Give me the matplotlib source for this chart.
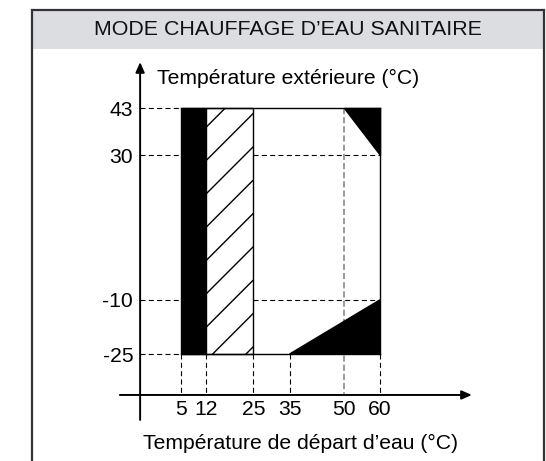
import matplotlib
matplotlib.use('Agg')
import matplotlib.pyplot as plt
from matplotlib.patches import Rectangle, Polygon

plt.rcParams['font.family'] = ['Liberation Sans', 'DejaVu Sans']
plt.rcParams['hatch.linewidth'] = 1.0

# ---------------- data ----------------
title = "MODE CHAUFFAGE D’EAU SANITAIRE"
xlabel = "Température de départ d’eau (°C)"
ylabel = "Température extérieure (°C)"

x_ticks = [5, 12, 25, 35, 50, 60]
y_ticks = [43, 30, -10, -25]

t_out_min, t_out_max = -25, 43
t_water_max = 60
backup_zone = [5, 12]        # black band
limited_zone = [12, 25]      # hatched band
top_corner_x = [50, 60, 60]
top_corner_y = [43, 43, 30]
bottom_corner_x = [35, 60, 60]
bottom_corner_y = [-25, -10, -25]
dashed_right_levels = [30, -10]
gray_line_x = 50

# axis placement (data units)
y_axis_x = -6.3
x_axis_y = -36.3

W, H = 546, 461
fig = plt.figure(figsize=(W / 100, H / 100), dpi=100)
ax = fig.add_axes([0, 0, 1, 1])
ax.set_xlim(-45.03, 105.9)
ax.set_ylim(-54.55, 72.86)
ax.axis('off')

FS = 15.2

# ---------------- frame & header ----------------
fx0, fx1 = 31.5 / W, 544 / W
fy_top = 1 - 10.5 / H
fy_head = 1 - 49 / H
fig.patches.append(Rectangle((fx0, fy_head), fx1 - fx0, fy_top - fy_head,
                             transform=fig.transFigure, facecolor='#dcdde0',
                             edgecolor='none', zorder=0))
fig.patches.append(Rectangle((fx0, -0.1), fx1 - fx0, fy_top + 0.1,
                             transform=fig.transFigure, facecolor='none',
                             edgecolor='#333333', lw=1.6, zorder=5))
fig.text((fx0 + fx1) / 2, 1 - 29.5 / H, title, ha='center', va='center',
         fontsize=15.4, color='#111111')

# ---------------- zones ----------------
ax.add_patch(Rectangle((backup_zone[0], t_out_min), backup_zone[1] - backup_zone[0],
                       t_out_max - t_out_min, facecolor='black', edgecolor='black',
                       lw=1.0, zorder=3))
ax.add_patch(Rectangle((limited_zone[0], t_out_min), limited_zone[1] - limited_zone[0],
                       t_out_max - t_out_min, facecolor='white', edgecolor='black',
                       hatch='/', lw=1.0, zorder=3))
ax.add_patch(Polygon(list(zip(top_corner_x, top_corner_y)), closed=True,
                     facecolor='black', edgecolor='black', lw=1.0, zorder=3))
ax.add_patch(Polygon(list(zip(bottom_corner_x, bottom_corner_y)), closed=True,
                     facecolor='black', edgecolor='black', lw=1.0, zorder=3))

# outline of operating region
ax.plot([backup_zone[0], t_water_max], [t_out_max, t_out_max], color='black', lw=1.0, zorder=3)
ax.plot([t_water_max, t_water_max], [t_out_max, t_out_min], color='black', lw=1.0, zorder=3)
ax.plot([backup_zone[0], t_water_max], [t_out_min, t_out_min], color='black', lw=1.0, zorder=3)

# ---------------- dashed guides ----------------
dash = (0, (4.5, 3))
for yv in y_ticks:
    ax.plot([y_axis_x, backup_zone[0]], [yv, yv], color='black', lw=0.8,
            linestyle=dash, zorder=2)
for yv in dashed_right_levels:
    ax.plot([limited_zone[1], t_water_max], [yv, yv], color='black', lw=0.8,
            linestyle=dash, zorder=2)
for xv in x_ticks:
    if xv == gray_line_x:
        continue
    ax.plot([xv, xv], [t_out_min, x_axis_y], color='black', lw=0.8,
            linestyle=dash, zorder=2)
ax.plot([gray_line_x, gray_line_x], [t_out_max, x_axis_y], color='#808080', lw=1.1,
        linestyle=(0, (4, 2)), zorder=2)

# ---------------- axes with arrows ----------------
ax.annotate('', xy=(85.4, x_axis_y), xytext=(-11.9, x_axis_y),
            arrowprops=dict(arrowstyle='-|>,head_length=0.5,head_width=0.22',
                            lw=1.4, color='black', mutation_scale=12,
                            shrinkA=0, shrinkB=0), zorder=4)
ax.annotate('', xy=(y_axis_x, 55.7), xytext=(y_axis_x, -43.2),
            arrowprops=dict(arrowstyle='-|>,head_length=0.5,head_width=0.22',
                            lw=1.4, color='black', mutation_scale=12,
                            shrinkA=0, shrinkB=0), zorder=4)

# ---------------- labels ----------------
for xv in x_ticks:
    ax.text(xv, -40.3, str(xv), ha='center', va='center', fontsize=FS)
for yv in y_ticks:
    ax.text(-8.2, yv, str(yv), ha='right', va='center_baseline', fontsize=FS)

ax.text(-1.6, 51.3, ylabel, ha='left', va='center', fontsize=FS)
ax.text(37.9, -49.8, xlabel, ha='center', va='center', fontsize=FS)

fig.savefig('out.png', dpi=100)
